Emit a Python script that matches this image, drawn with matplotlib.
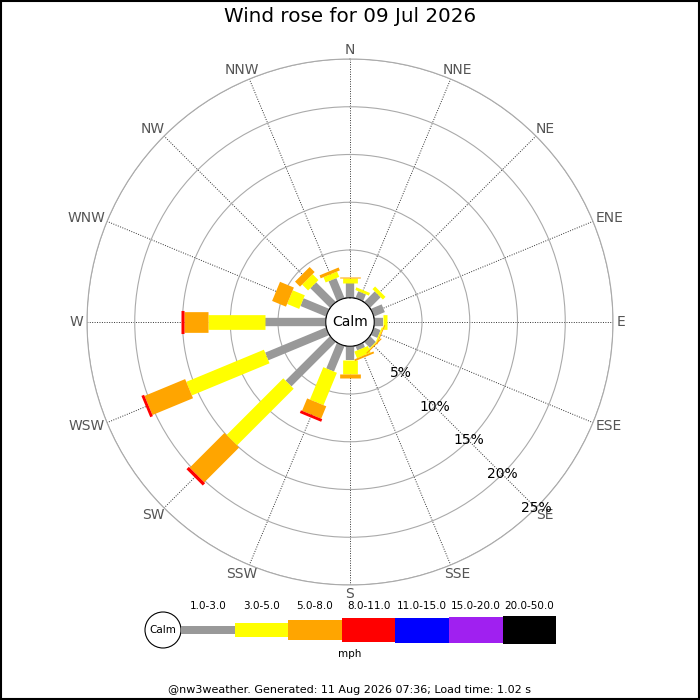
import matplotlib
matplotlib.use('Agg')
import matplotlib.pyplot as plt
from matplotlib.patches import Rectangle, Circle
import numpy as np

plt.rcParams['font.family'] = ['DejaVu Sans']

# 16 compass points, clockwise from N
directions = ['N', 'NNE', 'NE', 'ENE', 'E', 'ESE', 'SE', 'SSE',
              'S', 'SSW', 'SW', 'WSW', 'W', 'WNW', 'NW', 'NNW']

# percentage of time per direction, per speed band (mph)
band_labels = ['1.0-3.0', '3.0-5.0', '5.0-8.0', '8.0-11.0',
               '11.0-15.0', '15.0-20.0', '20.0-50.0']
band_colors = ['#999999', '#ffff00', '#ffa500', '#ff0000',
               '#0000ff', '#a020f0', '#000000']
band_widths = [6.0, 10.6, 14.9, 16.6, 18.0, 19.4, 20.4]   # points

pct_1_3 = [1.50, 0.77, 1.56, 1.23, 0.88, 0.75, 0.85, 0.50,
           1.44, 2.90, 6.57, 6.90, 6.35, 2.90, 2.90, 2.26]
pct_3_5 = [0.53, 0.30, 0.39, 0.00, 0.49, 0.15, 0.10, 0.75,
           1.50, 3.67, 8.40, 8.80, 6.00, 1.37, 0.88, 0.60]
pct_5_8 = [0.17, 0.00, 0.00, 0.00, 0.00, 0.10, 0.12, 0.20,
           0.42, 1.40, 5.15, 4.60, 2.50, 1.57, 0.74, 0.33]
pct_8_11 = [0.00, 0.00, 0.00, 0.00, 0.00, 0.00, 0.00, 0.00,
            0.00, 0.30, 0.35, 0.30, 0.35, 0.00, 0.00, 0.00]
pct_11_15 = [0.0] * 16
pct_15_20 = [0.0] * 16
pct_20_50 = [0.0] * 16
bands = [pct_1_3, pct_3_5, pct_5_8, pct_8_11, pct_11_15, pct_15_20, pct_20_50]

ring_values = [5, 10, 15, 20, 25]

fig = plt.figure(figsize=(7, 7), dpi=100)

# figure border
fig.patches.append(Rectangle((0.001, 0.001), 0.998, 0.998, transform=fig.transFigure,
                             fill=False, edgecolor='black', linewidth=1.5))

# === Polar rose ===
ax = fig.add_axes([87 / 700, 115 / 700, 526 / 700, 526 / 700], projection='polar')
ax.set_theta_zero_location('N')
ax.set_theta_direction(-1)
ax.set_rorigin(-2.54)
ax.set_ylim(0, 25)

theta = np.deg2rad(np.arange(16) * 22.5)
ax.set_xticks(theta)
ax.set_xticklabels([])
ax.set_yticks(ring_values)
ax.set_yticklabels([])
ax.grid(axis='y', color='#aaaaaa', linewidth=0.8, linestyle='-')
ax.grid(axis='x', color='#333333', linewidth=0.7, linestyle=(0, (1, 1.5)))
ax.spines['polar'].set_color('#aaaaaa')
ax.spines['polar'].set_linewidth(0.8)

cum = np.zeros(16)
for vals, col, w in zip(bands, band_colors, band_widths):
    vals = np.array(vals)
    for t, r0, v in zip(theta, cum, vals):
        if v > 0:
            ax.plot([t, t], [r0, r0 + v], color=col, linewidth=w,
                    solid_capstyle='butt', zorder=3)
    cum = cum + vals

# calm circle
circ = np.linspace(0, 2 * np.pi, 200)
ax.plot(circ, np.zeros_like(circ), color='black', linewidth=0.8, zorder=4)
ax.text(0, -2.54, 'Calm', ha='center', va='center', fontsize=10, zorder=5)

# ring labels along SE
for rv in ring_values:
    ax.text(np.deg2rad(135), rv, f'{rv}%', ha='center', va='center',
            fontsize=10, color='black', zorder=5)

# compass labels: nearest edge of each label sits just outside the outer ring
dir_texts = [ax.annotate(lab, xy=(t, 25), xytext=(0, 0), textcoords='offset points',
                         ha='center', va='center', fontsize=10, color='#555555',
                         annotation_clip=False)
             for lab, t in zip(directions, theta)]
fig.canvas.draw()
renderer = fig.canvas.get_renderer()
gap = 3.5
for txt, t in zip(dir_texts, theta):
    bb = txt.get_window_extent(renderer)
    dx = np.sin(t) * (gap + bb.width / 2)
    dy = np.cos(t) * (gap + bb.height / 2 - 1)
    txt.set_position((dx * 72 / fig.dpi, dy * 72 / fig.dpi))

fig.text(0.5, 1 - 17 / 700, 'Wind rose for 09 Jul 2026', ha='center', va='center',
         fontsize=14.3)

# === Legend ===
lax = fig.add_axes([0, 0, 1, 1])
lax.set_xlim(0, 700)
lax.set_ylim(700, 0)
lax.axis('off')
seg_left = 181 + np.arange(7) * 53.6
seg_len = 53.6
lax.add_patch(Circle((163, 630), 18, facecolor='white', edgecolor='black', linewidth=0.8))
lax.text(163, 630, 'Calm', ha='center', va='center', fontsize=7.5)
for x0, lab, col, w in zip(seg_left, band_labels, band_colors, band_widths):
    h = w / 0.72
    lax.bar(x0, h, width=seg_len, bottom=630 - h / 2, align='edge', color=col, linewidth=0)
    lax.text(x0 + seg_len / 2, 606, lab, ha='center', va='center', fontsize=7.5)
lax.text(350, 654, 'mph', ha='center', va='center', fontsize=7.5)
lax.text(350, 690, '@nw3weather. Generated: 11 Aug 2026 07:36; Load time: 1.02 s',
         ha='center', va='center', fontsize=8)

fig.savefig('out.png', dpi=100)
